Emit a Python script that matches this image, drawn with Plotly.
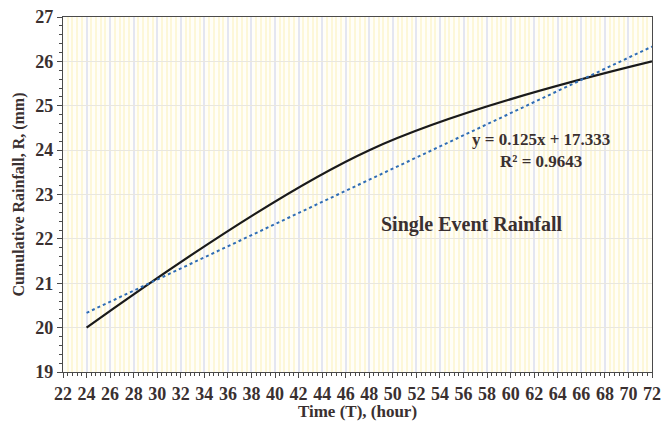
import numpy as np
import plotly.graph_objects as go

time_h = [24, 48, 72]
rainfall_mm = [20, 24, 26]
x_ticks = list(range(22, 74, 2))
y_ticks = list(range(19, 28))

slope, intercept = np.polyfit(time_h, rainfall_mm, 1)
pred = np.polyval([slope, intercept], time_h)
r2 = 1 - np.sum((np.array(rainfall_mm) - pred) ** 2) / np.sum((np.array(rainfall_mm) - np.mean(rainfall_mm)) ** 2)
trend_x = [time_h[0], time_h[-1]]
trend_y = list(np.polyval([slope, intercept], trend_x))

font_fam = "Liberation Serif"
txt = "#3a3030"

fig = go.Figure()
fig.add_trace(go.Scatter(x=time_h, y=rainfall_mm, mode="lines",
                         line=dict(color="#1a1a1a", width=2.2, shape="spline", smoothing=1.0),
                         showlegend=False))
fig.add_trace(go.Scatter(x=trend_x, y=trend_y, mode="lines",
                         line=dict(color="#2f6db5", width=2, dash="dot"),
                         showlegend=False))

fig.add_annotation(x=62.6, y=24.0, xref="x", yref="y", xanchor="center", yanchor="middle",
                   text=f"<b>y = {slope:.3f}x + {intercept:.3f}<br>R² = {r2:.4f}</b>",
                   showarrow=False, font=dict(family=font_fam, size=17, color=txt),
                   align="center")
fig.add_annotation(x=56.7, y=22.32, xref="x", yref="y", xanchor="center", yanchor="middle",
                   text="<b>Single Event Rainfall</b>", showarrow=False,
                   font=dict(family=font_fam, size=20, color=txt))

axis_common = dict(showline=True, linecolor="#4a4a4a", linewidth=1.2, mirror=True,
                   ticks="outside", tickcolor="#4a4a4a", ticklen=5,
                   tickfont=dict(family=font_fam, size=18, color=txt),
                   zeroline=False, automargin=False, ticklabeloverflow="allow")

fig.update_xaxes(range=[22, 72], tickvals=x_ticks, ticktext=[f"<b>{v}</b>" for v in x_ticks],
                 showgrid=True, gridcolor="#e4e6f1", gridwidth=1.5,
                 minor=dict(dtick=0.4, showgrid=True, gridcolor="#fdf7d8", gridwidth=1.6,
                            ticks="outside", ticklen=3, tickcolor="#4a4a4a"),
                 title=dict(text="<b>Time (T), (hour)</b>", font=dict(family=font_fam, size=17, color=txt),
                            standoff=2),
                 **axis_common)
fig.update_yaxes(range=[19, 27], tickvals=y_ticks, ticktext=[f"<b>{v}</b>" for v in y_ticks],
                 showgrid=True, gridcolor="#e9e7df", gridwidth=1,
                 minor=dict(dtick=0.2, showgrid=False, ticks="outside", ticklen=3, tickcolor="#4a4a4a"),
                 title=dict(text="<b>Cumulative Rainfall, R, (mm)</b>",
                            font=dict(family=font_fam, size=16, color=txt), standoff=6),
                 **axis_common)

fig.update_layout(width=661, height=421, margin=dict(l=63, r=9, t=17, b=49),
                  plot_bgcolor="#fffef8", paper_bgcolor="white")

fig.write_html("out.html", config={"displayModeBar": False},
               post_script="document.body.style.margin='0px';")
